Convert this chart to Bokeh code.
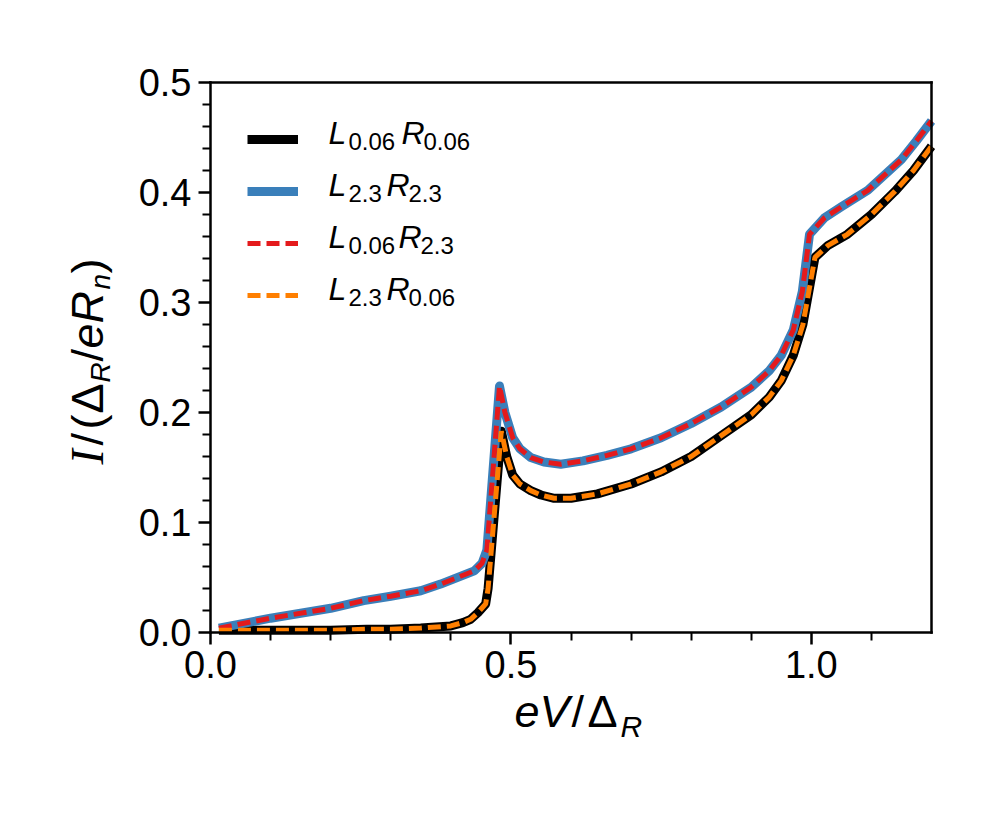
from bokeh.plotting import figure
from bokeh.models import (FixedTicker, PrintfTickFormatter, Label, Legend, LegendItem,
                          Range1d, LinearAxis)
from bokeh.core.properties import value
from bokeh.embed import file_html
from bokeh.resources import INLINE
import math

# ---------------- data ----------------
x_L23R23 = [0.014, 0.1, 0.2, 0.255, 0.3, 0.35, 0.383, 0.439, 0.452, 0.46, 0.481, 0.49, 0.503, 0.515,
            0.533, 0.555, 0.583, 0.62, 0.66, 0.7, 0.75, 0.8, 0.85, 0.9, 0.93, 0.95, 0.97, 0.985,
            0.997, 1.022, 1.05, 1.094, 1.15, 1.175, 1.2]
y_L23R23 = [0.004, 0.013, 0.022, 0.029, 0.033, 0.038, 0.044, 0.056, 0.063, 0.075, 0.224, 0.200, 0.177, 0.167,
            0.159, 0.155, 0.153, 0.156, 0.161, 0.167, 0.177, 0.190, 0.205, 0.223, 0.238, 0.252, 0.275, 0.310,
            0.362, 0.377, 0.387, 0.402, 0.430, 0.447, 0.465]
x_L006R23 = list(x_L23R23)
y_L006R23 = list(y_L23R23)

x_L006R006 = [0.014, 0.1, 0.2, 0.26, 0.3, 0.35, 0.4, 0.42, 0.433, 0.445, 0.458, 0.462, 0.484, 0.493, 0.503,
              0.515, 0.533, 0.55, 0.572, 0.6, 0.644, 0.7, 0.75, 0.8, 0.85, 0.9, 0.93, 0.95, 0.97, 0.986,
              1.006, 1.028, 1.06, 1.1, 1.139, 1.17, 1.2]
y_L006R006 = [0.002, 0.002, 0.002, 0.003, 0.003, 0.004, 0.006, 0.009, 0.012, 0.018, 0.026, 0.040, 0.183, 0.160, 0.143,
              0.135, 0.129, 0.125, 0.122, 0.122, 0.126, 0.135, 0.146, 0.160, 0.179, 0.198, 0.214, 0.229, 0.252, 0.280,
              0.341, 0.352, 0.362, 0.380, 0.401, 0.420, 0.442]
x_L23R006 = list(x_L006R006)
y_L23R006 = list(y_L006R006)

x_limits = (0.0, 1.2)
y_limits = (0.0, 0.5)
x_major_ticks = [0.0, 0.5, 1.0]
x_minor_ticks = [0.1, 0.2, 0.3, 0.4, 0.6, 0.7, 0.8, 0.9, 1.1]
y_major_ticks = [0.0, 0.1, 0.2, 0.3, 0.4, 0.5]
y_minor_ticks = [round(0.02 * i, 2) for i in range(26) if i % 5 != 0]

FONT = "Liberation Sans"

# ---------------- geometry (page pixels) ----------------
W, H = 991, 810
BOX_L, BOX_R, BOX_T, BOX_B = 210, 931, 82, 632
SX = (BOX_R - BOX_L) / (x_limits[1] - x_limits[0])
SY = (BOX_B - BOX_T) / (y_limits[1] - y_limits[0])

x_range = Range1d(x_limits[0] - BOX_L / SX, x_limits[0] + (W - BOX_L) / SX)
y_range = Range1d(y_limits[0] - (H - BOX_B) / SY, y_limits[0] + BOX_B / SY)

p = figure(width=W, height=H, x_range=x_range, y_range=y_range,
           x_axis_location=None, y_axis_location=None, min_border=0,
           output_backend="svg", toolbar_location=None)
p.grid.visible = False
p.outline_line_color = None
p.background_fill_color = "white"
p.border_fill_color = "white"


def style_axis(ax):
    ax.axis_line_width = 2.5
    ax.axis_line_color = "black"
    ax.axis_line_cap = "square"
    ax.major_tick_line_width = 2.5
    ax.minor_tick_line_width = 2
    ax.major_tick_line_color = "black"
    ax.minor_tick_line_color = "black"
    ax.major_tick_out = 12
    ax.major_tick_in = 0
    ax.minor_tick_out = 8
    ax.minor_tick_in = 0
    ax.major_label_text_font = FONT
    ax.major_label_text_font_size = "38px"
    ax.major_label_text_color = "black"


xaxis = LinearAxis(fixed_location=y_limits[0], bounds=x_limits,
                   ticker=FixedTicker(ticks=x_major_ticks, minor_ticks=x_minor_ticks),
                   formatter=PrintfTickFormatter(format="%.1f"), major_label_standoff=6)
yaxis = LinearAxis(fixed_location=x_limits[0], bounds=y_limits,
                   ticker=FixedTicker(ticks=y_major_ticks, minor_ticks=y_minor_ticks),
                   formatter=PrintfTickFormatter(format="%.1f"), major_label_standoff=7)
top_spine = LinearAxis(fixed_location=y_limits[1], bounds=x_limits,
                       ticker=FixedTicker(ticks=[], minor_ticks=[]))
right_spine = LinearAxis(fixed_location=x_limits[1], bounds=y_limits,
                         ticker=FixedTicker(ticks=[], minor_ticks=[]))
for ax in (xaxis, yaxis, top_spine, right_spine):
    style_axis(ax)
p.add_layout(xaxis, "below")
p.add_layout(yaxis, "left")
p.add_layout(top_spine, "above")
p.add_layout(right_spine, "right")

r_black = p.line(x_L006R006, y_L006R006, line_color="black", line_width=9, line_join="round")
r_blue = p.line(x_L23R23, y_L23R23, line_color="#3a7fba", line_width=9, line_join="round")
r_red = p.line(x_L006R23, y_L006R23, line_color="#e41a1c", line_width=5, line_dash="13 6")
r_orange = p.line(x_L23R006, y_L23R006, line_color="#ff7f00", line_width=5, line_dash="13 6")

# legend (samples only; the texts with subscripts are Labels below)
LEG_LEFT, LEG_TOP, PAD, GH, SP = 220, 92, 27, 40, 12
leg_h = 2 * PAD + 4 * GH + 3 * SP
legend = Legend(items=[LegendItem(label=value(""), renderers=[r]) for r in (r_black, r_blue, r_red, r_orange)],
                location=(LEG_LEFT, H - (LEG_TOP + leg_h)), margin=0, padding=PAD,
                glyph_width=51, glyph_height=GH, label_height=GH, label_width=0, label_standoff=0,
                spacing=SP, border_line_alpha=0, background_fill_alpha=0)
p.add_layout(legend)

K = 0.38  # baseline correction (fraction of font size)


def lab(text, px, py, size, style="normal", font=FONT, angle=0.0):
    if angle:
        px = px - K * size
    else:
        py = py - K * size
    p.add_layout(Label(x=x_limits[0] + (px - BOX_L) / SX, y=y_limits[0] + (BOX_B - py) / SY,
                       text=text, text_font=font, text_font_size=f"{size}px",
                       text_font_style=style, text_baseline="alphabetic", text_align="left",
                       angle=angle, text_color="black"))


legend_rows = [("0.06", "0.06", 145, 401), ("2.3", "2.3", 197, 386),
               ("0.06", "2.3", 249, 398), ("2.3", "0.06", 301, 386)]
for subL, subR, base, rx in legend_rows:
    lab("L", 328, base, 32, "italic")
    lab(subL, 348, base + 5, 24)
    lab("R", rx, base, 32, "italic")
    lab(subR, rx + 22, base + 5, 24)

# x axis title: eV/Δ_R
lab("eV", 514, 728, 45, "italic")
lab("/", 571, 728, 45)
lab("Δ", 587, 728, 45)
lab("R", 620, 737, 30, "italic")

# y axis title: I/(Δ_R/eR_n), rotated to read upwards
A = math.pi / 2
lab("I", 104, 464, 46, "italic", font="Liberation Serif", angle=A)
lab("/", 104, 445, 45, angle=A)
lab("(", 104, 429, 45, angle=A)
lab("Δ", 104, 413, 45, angle=A)
lab("R", 111, 382, 28, "italic", angle=A)
lab("/", 104, 361, 45, angle=A)
lab("eR", 104, 348, 45, "italic", angle=A)
lab("n", 111, 289, 28, "italic", angle=A)
lab(")", 104, 273, 45, angle=A)

open("out.html", "w").write(file_html(p, INLINE))
